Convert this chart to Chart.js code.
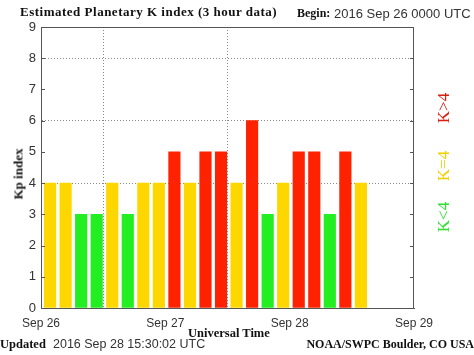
<!DOCTYPE html>
<html><head><meta charset="utf-8">
<script src="https://cdn.jsdelivr.net/npm/chart.js@4/dist/chart.umd.min.js"></script>
<style>
html,body{margin:0;padding:0;background:#fff;}
#wrap{position:relative;width:474px;height:355px;overflow:hidden;}
canvas{position:absolute;left:0;top:0;}
.t{position:absolute;white-space:nowrap;line-height:1;}
.serif{font-family:"Liberation Serif","Times New Roman",serif;font-weight:bold;color:#111;}
.sans{font-family:"Liberation Sans",Arial,sans-serif;color:#333;}
.rot{transform:translate(-50%,-50%) rotate(-90deg);}
</style></head>
<body><div id="wrap">
<canvas id="c" width="474" height="355"></canvas>
<div class="t serif" style="left:20px;top:5px;font-size:13px;letter-spacing:0.5px;">Estimated Planetary K index (3 hour data)</div>
<div class="t serif" style="left:297px;top:7px;font-size:12px;">Begin:</div>
<div class="t sans" style="left:334px;top:7px;font-size:13px;">2016 Sep 26 0000 UTC</div>
<div class="t serif rot" style="left:18px;top:174px;font-size:13px;">Kp index</div>
<div class="t serif" style="left:188px;top:327px;font-size:12.5px;">Universal Time</div>
<div class="t serif" style="left:0px;top:338px;font-size:12.5px;">Updated</div>
<div class="t sans" style="left:53px;top:338px;font-size:12.5px;">2016 Sep 28 15:30:02 UTC</div>
<div class="t serif" style="right:0px;top:338px;font-size:12px;">NOAA/SWPC Boulder, CO USA</div>
<div class="t rot" style="left:443px;top:108px;font-size:17px;font-family:'Liberation Serif',serif;color:#d82010;">K&gt;4</div>
<div class="t rot" style="left:443px;top:166px;font-size:17px;font-family:'Liberation Serif',serif;color:#f0d000;">K=4</div>
<div class="t rot" style="left:443px;top:217px;font-size:17px;font-family:'Liberation Serif',serif;color:#30e030;">K&lt;4</div>
</div>
<script>
// Data: Kp values for each 3-hour interval starting 2016 Sep 26 00 UTC
const kpValues = [4,4,3,3,4,3,4,4, 5,4,5,5,4,6,3,4, 5,5,3,5,4];
const dayLabels = ['Sep 26','Sep 27','Sep 28','Sep 29'];
const yTicks = [0,1,2,3,4,5,6,7,8,9];
const gridKp = [4,6,8];

const HOURS_PER_BAR = 3;
const BAR_POS = 1.75; // position within 3h slot (hours)
const colorFor = v => v > 4 ? '#ff2200' : (v === 4 ? '#ffd700' : '#22ee22');

const points = kpValues.map((v,i)=>({x: i*HOURS_PER_BAR + BAR_POS, y: v}));

const framePlugin = {
  id:'frame',
  afterDatasetsDraw(chart){
    const {ctx, chartArea:a, scales:{y}} = chart;
    ctx.save();
    ctx.strokeStyle = '#555';
    ctx.lineWidth = 1;
    ctx.strokeRect(a.left+0.5, a.top+0.5, a.right-a.left-1, a.bottom-a.top);
    ctx.beginPath();
    yTicks.forEach(t=>{
      const py = Math.round(y.getPixelForValue(t))+0.5;
      ctx.moveTo(a.right-4, py); ctx.lineTo(a.right, py);
      ctx.moveTo(a.left, py); ctx.lineTo(a.left+4, py);
    });
    ctx.stroke();
    ctx.restore();
  }
};

new Chart(document.getElementById('c'), {
  type:'bar',
  data:{datasets:[{
    data: points,
    backgroundColor: points.map(p=>colorFor(p.y)),
    borderWidth:0,
    barThickness:11.5
  }]},
  options:{
    responsive:false,
    devicePixelRatio:1,
    animation:false,
    layout:{padding:{top:27,right:60,left:0,bottom:0}},
    plugins:{legend:{display:false},tooltip:{enabled:false}},
    scales:{
      x:{
        type:'linear', min:0, max:72, offset:false,
        afterFit(s){ s.height = 47; },
        afterBuildTicks(s){ s.ticks = dayLabels.map((_,i)=>({value:i*24})); },
        ticks:{
          callback:(v)=>dayLabels[v/24],
          maxRotation:0, autoSkip:false, padding:8,
          font:{family:'"Liberation Sans", Arial, sans-serif', size:12},
          color:'#333'
        },
        grid:{
          drawTicks:false,
          color:(c)=> (c.tick && (c.tick.value===24 || c.tick.value===48)) ? '#888' : 'rgba(0,0,0,0)',
          lineWidth:1
        },
        border:{display:true,color:'#555',dash:[1,2]}
      },
      y:{
        min:0, max:9,
        afterFit(s){ s.width = 41; },
        afterBuildTicks(s){ s.ticks = yTicks.map(v=>({value:v})); },
        ticks:{
          padding:5,
          font:{family:'"Liberation Sans", Arial, sans-serif', size:13},
          color:'#333'
        },
        grid:{
          drawTicks:false,
          color:(c)=> (c.tick && gridKp.includes(c.tick.value)) ? '#888' : 'rgba(0,0,0,0)'
        },
        border:{display:true,color:'#555',dash:[1,2]}
      }
    }
  },
  plugins:[framePlugin]
});
</script>
</body></html>
